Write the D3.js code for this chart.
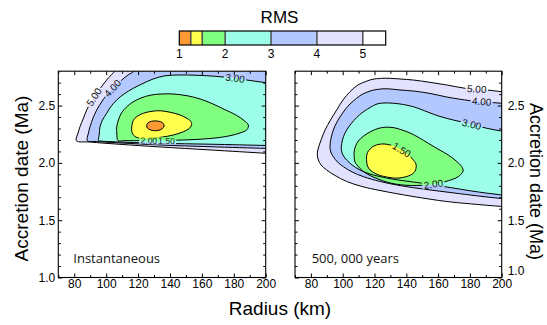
<!DOCTYPE html>
<html><head><meta charset="utf-8">
<script src="https://cdn.jsdelivr.net/npm/d3@7"></script>
<style>
body{margin:0;background:#fff;}
svg{display:block;}
text{font-family:"Liberation Sans",Arial,Helvetica,sans-serif;}
</style></head><body>
<svg id="chart" width="547" height="325"></svg>
<script>
// ---------- data ----------
const legendBreaks = [1, 1.25, 1.5, 2, 3, 4, 5, 5.5];
const legendColors = ["#ff9933", "#ffff4d", "#80ff80", "#9cfee8", "#b2c8ff", "#e2e2ff", "#ffffff"];
const legendTicks = [1, 2, 3, 4, 5];
const radiusDomain = [70, 200];
const dateDomain = [1.0, 2.8];
const radiusTicks = [80, 100, 120, 140, 160, 180, 200];
const radiusMinorTicks = [70, 90, 110, 130, 150, 170, 190];
const dateTicks = [1.0, 1.5, 2.0, 2.5];
const dateMinorTicks = [1.1, 1.2, 1.3, 1.4, 1.6, 1.7, 1.8, 1.9, 2.1, 2.2, 2.3, 2.4, 2.6, 2.7];

// Instantaneous panel: contour lines [radius km, accretion date Ma]
const instRms5 = [[210,2.076],[200,2.084],[165.1,2.113],[133.8,2.139],[108.7,2.162],[89.9,2.182],[81.3,2.194],[82.4,2.261],[83.6,2.316],[85.8,2.392],[87.8,2.462],[90.8,2.540],[94.1,2.607],[97.4,2.671],[100.3,2.723],[103.4,2.771],[105.5,2.802],[107.5,2.9]];
const instRms4 = [[210,2.120],[200,2.126],[165.1,2.141],[133.8,2.156],[108.7,2.174],[93.0,2.187],[88.2,2.193],[88.9,2.261],[89.9,2.316],[91.8,2.392],[94.1,2.462],[97.1,2.531],[100.3,2.593],[104.3,2.654],[108.7,2.710],[113.7,2.767],[117.5,2.802],[119.3,2.9]];
const instRms3 = [[210,2.149],[200,2.152],[165.1,2.163],[133.8,2.171],[108.7,2.182],[96.1,2.191],[95.2,2.194],[95.7,2.252],[96.1,2.313],[97.7,2.374],[100.3,2.433],[103.0,2.492],[106.6,2.549],[111.2,2.601],[117.0,2.651],[123.1,2.693],[129.4,2.732],[136.9,2.760],[146.3,2.767],[155.7,2.765],[168.2,2.756],[180.8,2.738],[190.2,2.719],[200.2,2.700],[210,2.690]];
const instRms2 = [[107.4,2.195],[106.7,2.252],[106.6,2.313],[107.7,2.374],[109.6,2.436],[112.8,2.488],[116.8,2.531],[121.8,2.566],[127.5,2.590],[134.4,2.601],[141.9,2.601],[150.7,2.586],[158.8,2.558],[166.3,2.518],[173.9,2.468],[181.8,2.414],[186.4,2.370],[189.1,2.331],[188.3,2.291],[183.9,2.261],[177.6,2.237],[168.2,2.217],[155.7,2.204],[140.0,2.197],[124.4,2.195],[111.8,2.194]];
const instRms15 = [[116.0,2.313],[117.0,2.370],[119.3,2.405],[123.3,2.433],[128.1,2.449],[133.8,2.455],[140.0,2.442],[146.3,2.418],[150.7,2.388],[153.5,2.353],[152.9,2.313],[150.7,2.287],[146.3,2.261],[141.3,2.241],[135.6,2.226],[128.7,2.216],[122.5,2.213],[118.1,2.230],[116.2,2.265]];
const instRms125 = [[125.4,2.322],[126.2,2.348],[128.4,2.363],[131.2,2.366],[134.1,2.359],[135.9,2.342],[136.3,2.322],[135.3,2.300],[133.1,2.285],[130.3,2.281],[127.5,2.289],[125.9,2.303]];

// 500,000 years panel
const slowRms5 = [[210,2.612],[200,2.621],[194.7,2.630],[186.4,2.641],[176.9,2.651],[165.4,2.680],[154.9,2.703],[144.4,2.723],[136.0,2.732],[129.8,2.738],[124.5,2.738],[118.4,2.728],[115.1,2.713],[109.6,2.680],[104.6,2.621],[100.2,2.549],[96.2,2.462],[92.0,2.366],[88.9,2.287],[86.4,2.200],[84.7,2.130],[84.0,2.078],[84.7,2.025],[86.4,1.982],[89.9,1.938],[95.2,1.890],[102.5,1.838],[112.1,1.794],[123.5,1.759],[144.2,1.707],[165.4,1.663],[180.1,1.643],[200,1.620],[210,1.612]];
const slowRms4 = [[210,2.512],[200,2.520],[190.1,2.531],[180.1,2.543],[165.4,2.575],[154.9,2.606],[144.4,2.627],[136.0,2.636],[127.7,2.647],[121.6,2.641],[117.2,2.627],[112.1,2.597],[108.8,2.564],[104.6,2.514],[100.4,2.444],[96.4,2.357],[94.1,2.287],[92.7,2.217],[92.0,2.141],[92.5,2.095],[94.1,2.054],[96.7,2.008],[100.4,1.967],[105.9,1.921],[113.0,1.880],[123.5,1.838],[134.0,1.807],[144.4,1.784],[154.9,1.764],[167.5,1.742],[180.1,1.720],[200,1.689],[210,1.680]];
const slowRms3 = [[210,2.262],[200,2.278],[190.6,2.302],[180.1,2.340],[169.6,2.374],[161.2,2.405],[154.9,2.436],[148.6,2.470],[144.4,2.490],[136.0,2.514],[126.6,2.523],[121.6,2.514],[117.2,2.483],[112.8,2.444],[108.8,2.396],[105.2,2.340],[102.5,2.287],[100.5,2.230],[99.4,2.171],[99.1,2.130],[99.4,2.098],[100.5,2.060],[102.5,2.025],[105.9,1.982],[110.9,1.938],[117.2,1.903],[123.5,1.880],[132.9,1.855],[144.4,1.833],[154.9,1.813],[167.5,1.785],[180.1,1.757],[190.1,1.737],[200,1.720],[210,1.705]];
const slowRms2 = [[107.7,2.008],[107.2,2.095],[108.1,2.148],[109.8,2.191],[112.8,2.230],[116.6,2.265],[120.6,2.292],[125.0,2.309],[129.1,2.311],[132.9,2.305],[137.3,2.287],[142.3,2.261],[148.0,2.220],[153.8,2.171],[159.9,2.121],[166.4,2.069],[171.3,2.017],[174.9,1.967],[175.7,1.929],[172.7,1.880],[168.8,1.855],[164.3,1.836],[159.3,1.820],[153.8,1.807],[146.7,1.803],[139.8,1.805],[132.9,1.816],[127.7,1.833],[122.2,1.860],[117.2,1.890],[113.4,1.921],[110.9,1.951],[109.0,1.982]];
const slowRms15 = [[115.1,2.008],[115.0,2.052],[115.6,2.091],[117.2,2.121],[119.7,2.148],[122.8,2.162],[126.0,2.165],[129.4,2.158],[132.9,2.143],[137.0,2.113],[140.8,2.078],[143.9,2.034],[146.1,1.990],[146.1,1.951],[145.2,1.921],[142.7,1.894],[139.2,1.877],[135.4,1.868],[131.8,1.868],[127.6,1.877],[123.5,1.890],[120.0,1.912],[117.2,1.938],[115.6,1.973]];

const instLabels = [
  {text:"5.00", r:92.4, d:2.575, rot:-57, fs:10},
  {text:"4.00", r:104.1, d:2.651, rot:-47, fs:10},
  {text:"3.00", r:180.8, d:2.738, rot:7, fs:10},
  {text:"2.00", r:126.8, d:2.194, rot:2, fs:8.5},
  {text:"1.50", r:137.8, d:2.192, rot:2, fs:8.5}
];
const slowLabels = [
  {text:"5.00", r:184.3, d:2.644, rot:4, fs:10},
  {text:"4.00", r:187.4, d:2.534, rot:5, fs:10},
  {text:"3.00", r:181.1, d:2.336, rot:14, fs:10},
  {text:"1.50", r:137.0, d:2.113, rot:32, fs:10},
  {text:"2.00", r:157.0, d:1.815, rot:-8, fs:10}
];

// ---------- drawing ----------
const svg = d3.select("#chart");
const defs = svg.append("defs");
const yTop = 71.2, yBot = 277.5;
const levelColor = {5:legendColors[5], 4:legendColors[4], 3:legendColors[3], 2:legendColors[2], 1.5:legendColors[1], 1.25:legendColors[0]};

const panels = [
  {x0:58.3, x1:265.7, side:"left", title:"Instantaneous", tx:73.3,
   contours:[{lv:5,pts:instRms5,close:[[215,2.9],[215,2.076]]},{lv:4,pts:instRms4,close:[[215,2.9],[215,2.12]]},{lv:3,pts:instRms3,close:[]},{lv:2,pts:instRms2,closed:true},{lv:1.5,pts:instRms15,closed:true},{lv:1.25,pts:instRms125,closed:true}],
   labels:instLabels},
  {x0:295, x1:501.7, side:"right", title:"500, 000 years", tx:311.7,
   contours:[{lv:5,pts:slowRms5,close:[]},{lv:4,pts:slowRms4,close:[]},{lv:3,pts:slowRms3,close:[]},{lv:2,pts:slowRms2,closed:true},{lv:1.5,pts:slowRms15,closed:true}],
   labels:slowLabels}
];

panels.forEach((p, idx) => {
  const x = d3.scaleLinear().domain(radiusDomain).range([p.x0, p.x1]);
  const y = d3.scaleLinear().domain(dateDomain).range([yBot, yTop]);
  const clipId = "clip" + idx, maskId = "mask" + idx;
  defs.append("clipPath").attr("id", clipId).append("rect")
    .attr("x", p.x0).attr("y", yTop).attr("width", p.x1 - p.x0).attr("height", yBot - yTop);
  const mask = defs.append("mask").attr("id", maskId).attr("maskUnits", "userSpaceOnUse")
    .attr("x", 0).attr("y", 0).attr("width", 547).attr("height", 325);
  mask.append("rect").attr("width", 547).attr("height", 325).attr("fill", "white");

  const g = svg.append("g");
  const cg = g.append("g").attr("clip-path", `url(#${clipId})`);
  const lineOpen = d3.line().x(d => x(d[0])).y(d => y(d[1])).curve(d3.curveCatmullRom.alpha(0.5));
  const lineClosed = d3.line().x(d => x(d[0])).y(d => y(d[1])).curve(d3.curveCatmullRomClosed.alpha(0.5));

  p.contours.forEach(c => {
    const d = c.closed ? lineClosed(c.pts)
      : lineOpen(c.pts) + c.close.map(q => "L" + x(q[0]) + "," + y(q[1])).join("") + "Z";
    cg.append("path").attr("d", d).attr("fill", levelColor[c.lv]).attr("stroke", "none");
  });
  const sg = cg.append("g").attr("mask", `url(#${maskId})`);
  p.contours.forEach(c => {
    sg.append("path").attr("d", c.closed ? lineClosed(c.pts) : lineOpen(c.pts))
      .attr("fill", "none").attr("stroke", "#000").attr("stroke-width", 1);
  });
  p.labels.forEach(l => {
    const tr = `translate(${x(l.r)},${y(l.d)}) rotate(${l.rot})`;
    const t = cg.append("text").attr("transform", tr).attr("text-anchor", "middle")
      .attr("dy", "0.35em").style("font-size", l.fs + "px").attr("fill", "#111").text(l.text);
    const w = t.node().getComputedTextLength();
    mask.append("rect").attr("transform", tr).attr("x", -w / 2 - 1.5).attr("y", -l.fs * 0.4)
      .attr("width", w + 3).attr("height", l.fs * 0.8).attr("fill", "black");
  });

  // axes
  const styleAxis = sel => { sel.attr("font-size", 12).attr("font-family", "Liberation Sans, Arial, sans-serif");
    sel.select(".domain").remove(); };
  g.append("g").attr("transform", `translate(0,${yBot})`)
    .call(d3.axisBottom(x).tickValues(radiusTicks).tickSizeInner(-4).tickSizeOuter(0).tickPadding(2).tickFormat(d3.format("d"))).call(styleAxis);
  g.append("g").attr("transform", `translate(0,${yBot})`)
    .call(d3.axisBottom(x).tickValues(radiusMinorTicks).tickSizeInner(-2.5).tickSizeOuter(0).tickFormat("")).call(styleAxis);
  g.append("g").attr("transform", `translate(0,${yTop})`)
    .call(d3.axisTop(x).tickValues(radiusTicks).tickSizeInner(-4).tickSizeOuter(0).tickFormat("")).call(styleAxis);
  g.append("g").attr("transform", `translate(0,${yTop})`)
    .call(d3.axisTop(x).tickValues(radiusMinorTicks).tickSizeInner(-2.5).tickSizeOuter(0).tickFormat("")).call(styleAxis);
  const labelled = p.side === "left" ? d3.axisLeft : d3.axisRight;
  const other = p.side === "left" ? d3.axisRight : d3.axisLeft;
  const lx = p.side === "left" ? p.x0 : p.x1, ox = p.side === "left" ? p.x1 : p.x0;
  const ya = g.append("g").attr("transform", `translate(${lx},0)`)
    .call(labelled(y).tickValues(dateTicks).tickSizeInner(-4).tickSizeOuter(0).tickPadding(p.side === "left" ? 3 : 6).tickFormat(d3.format(".1f"))).call(styleAxis);
  if (p.side === "right") {
    ya.selectAll(".tick text").filter(d => d === dateDomain[0]).attr("dy", "-0.22em");
  }
  g.append("g").attr("transform", `translate(${lx},0)`)
    .call(labelled(y).tickValues(dateMinorTicks).tickSizeInner(-2.5).tickSizeOuter(0).tickFormat("")).call(styleAxis);
  g.append("g").attr("transform", `translate(${ox},0)`)
    .call(other(y).tickValues(dateTicks).tickSizeInner(-4).tickSizeOuter(0).tickFormat("")).call(styleAxis);
  g.append("g").attr("transform", `translate(${ox},0)`)
    .call(other(y).tickValues(dateMinorTicks).tickSizeInner(-2.5).tickSizeOuter(0).tickFormat("")).call(styleAxis);

  g.append("rect").attr("x", p.x0).attr("y", yTop).attr("width", p.x1 - p.x0).attr("height", yBot - yTop)
    .attr("fill", "none").attr("stroke", "#000").attr("stroke-width", 1.1);
  g.append("text").attr("x", p.tx).attr("y", 263.3).style("font-family", "'Open Sans', sans-serif")
    .style("font-size", "13px").attr("fill", "#111").text(p.title);
});

// axis titles
svg.append("text").attr("transform", "translate(28.3,178.5) rotate(-90)").attr("text-anchor", "middle")
  .style("font-size", "19px").text("Accretion date (Ma)");
svg.append("text").attr("transform", "translate(529.5,181.5) rotate(90)").attr("text-anchor", "middle")
  .style("font-size", "18px").text("Accretion date (Ma)");
svg.append("text").attr("x", 280).attr("y", 314.5).attr("text-anchor", "middle")
  .style("font-size", "19px").text("Radius (km)");

// legend
const lgx = d3.scaleLinear().domain([legendBreaks[0], legendBreaks[legendBreaks.length - 1]]).range([179.3, 385.7]);
const lg = svg.append("g");
legendColors.forEach((c, i) => {
  lg.append("rect").attr("x", lgx(legendBreaks[i])).attr("y", 31)
    .attr("width", lgx(legendBreaks[i + 1]) - lgx(legendBreaks[i])).attr("height", 14).attr("fill", c);
});
legendBreaks.slice(1, -1).forEach(b => {
  lg.append("line").attr("x1", lgx(b)).attr("x2", lgx(b)).attr("y1", 31).attr("y2", 45)
    .attr("stroke", "#555").attr("stroke-width", 1.6);
});
lg.append("rect").attr("x", lgx(1)).attr("y", 31).attr("width", lgx(5.5) - lgx(1)).attr("height", 14)
  .attr("fill", "none").attr("stroke", "#000").attr("stroke-width", 1.2);
legendTicks.forEach(t => {
  lg.append("text").attr("x", lgx(t)).attr("y", 57.5).attr("text-anchor", "middle")
    .style("font-size", "12px").text(t);
});
lg.append("text").attr("x", 279.5).attr("y", 23.3).attr("text-anchor", "middle").style("font-size", "17px").text("RMS");
</script>
</body></html>
